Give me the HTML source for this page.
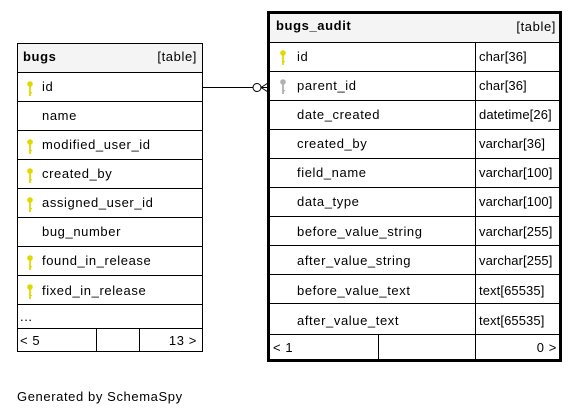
<!DOCTYPE html>
<html><head><style>body{margin:0;background:#fff}svg{display:block}text{font-family:"Liberation Sans",sans-serif;font-size:13px;fill:#000;letter-spacing:0.6px}text.t{letter-spacing:0.1px}</style></head><body>
<svg width="583" height="417" xmlns="http://www.w3.org/2000/svg">
<defs>
<g id="ky"><circle cx="0" cy="-4" r="2.8" fill="#e0d800"/><rect x="-0.9" y="-2" width="1.8" height="10" fill="#e0d800"/><rect x="0" y="4" width="2" height="1.2" fill="#e0d800"/></g>
<g id="kg"><circle cx="0" cy="-4" r="2.8" fill="#b0b0b0"/><rect x="-0.9" y="-2" width="1.8" height="10" fill="#b0b0b0"/><rect x="0" y="4" width="2" height="1.2" fill="#b0b0b0"/></g>
</defs>
<rect x="17.5" y="43.5" width="185" height="308" fill="#fff" stroke="#000"/>
<rect x="18" y="44" width="184" height="28" fill="#f4f4f4"/>
<g stroke="#000" stroke-width="1">
<line x1="17" y1="72.5" x2="203" y2="72.5"/><line x1="17" y1="101.5" x2="203" y2="101.5"/><line x1="17" y1="130.5" x2="203" y2="130.5"/><line x1="17" y1="159.5" x2="203" y2="159.5"/><line x1="17" y1="188.5" x2="203" y2="188.5"/><line x1="17" y1="217.5" x2="203" y2="217.5"/><line x1="17" y1="246.5" x2="203" y2="246.5"/><line x1="17" y1="275.5" x2="203" y2="275.5"/><line x1="17" y1="304.5" x2="203" y2="304.5"/><line x1="17" y1="328.5" x2="203" y2="328.5"/>
<line x1="96.5" y1="328" x2="96.5" y2="352"/><line x1="139.5" y1="328" x2="139.5" y2="352"/>
</g>
<text x="23" y="61" font-weight="bold">bugs</text><text x="197" y="61" text-anchor="end">[table]</text>
<use href="#ky" x="30" y="88"/><text x="42" y="91">id</text>
<text x="42" y="120">name</text>
<use href="#ky" x="30" y="146"/><text x="42" y="149">modified_user_id</text>
<use href="#ky" x="30" y="175"/><text x="42" y="178">created_by</text>
<use href="#ky" x="30" y="204"/><text x="42" y="207">assigned_user_id</text>
<text x="42" y="236">bug_number</text>
<use href="#ky" x="30" y="262"/><text x="42" y="265">found_in_release</text>
<use href="#ky" x="30" y="291"/><text x="42" y="295">fixed_in_release</text>
<text x="20" y="321">...</text>
<text x="20" y="345">&lt; 5</text><text x="197" y="345" text-anchor="end">13 &gt;</text>
<line x1="203" y1="87.5" x2="253" y2="87.5" stroke="#000"/>
<circle cx="257" cy="87.5" r="4" fill="#fff" stroke="#000"/>
<path d="M261 87.5 L268 83 M261 87.5 L268 92 M261 87.5 L268 87.5" stroke="#000" fill="none"/>
<rect x="268.5" y="12.5" width="292" height="348" fill="#fff" stroke="#000" stroke-width="3"/>
<rect x="270" y="14" width="289" height="28" fill="#f4f4f4"/>
<g stroke="#000" stroke-width="1">
<line x1="268" y1="42.5" x2="561" y2="42.5"/><line x1="268" y1="71.5" x2="561" y2="71.5"/><line x1="268" y1="100.5" x2="561" y2="100.5"/><line x1="268" y1="129.5" x2="561" y2="129.5"/><line x1="268" y1="158.5" x2="561" y2="158.5"/><line x1="268" y1="187.5" x2="561" y2="187.5"/><line x1="268" y1="216.5" x2="561" y2="216.5"/><line x1="268" y1="245.5" x2="561" y2="245.5"/><line x1="268" y1="274.5" x2="561" y2="274.5"/><line x1="268" y1="303.5" x2="561" y2="303.5"/><line x1="268" y1="334.5" x2="561" y2="334.5"/>
<line x1="475.5" y1="42" x2="475.5" y2="361"/><line x1="378.5" y1="334" x2="378.5" y2="361"/>
</g>
<text x="276" y="30" font-weight="bold">bugs_audit</text><text x="556" y="31" text-anchor="end">[table]</text>
<use href="#ky" x="283" y="57"/><text x="297" y="61">id</text><text class="t" x="479" y="61">char[36]</text>
<use href="#kg" x="283" y="86"/><text x="297" y="90">parent_id</text><text class="t" x="479" y="90">char[36]</text>
<text x="297" y="119">date_created</text><text class="t" x="479" y="119">datetime[26]</text>
<text x="297" y="148">created_by</text><text class="t" x="479" y="148">varchar[36]</text>
<text x="297" y="177">field_name</text><text class="t" x="479" y="177">varchar[100]</text>
<text x="297" y="206">data_type</text><text class="t" x="479" y="206">varchar[100]</text>
<text x="297" y="236">before_value_string</text><text class="t" x="479" y="236">varchar[255]</text>
<text x="297" y="265">after_value_string</text><text class="t" x="479" y="265">varchar[255]</text>
<text x="297" y="295">before_value_text</text><text class="t" x="479" y="295">text[65535]</text>
<text x="297" y="325">after_value_text</text><text class="t" x="479" y="325">text[65535]</text>
<text x="273" y="352">&lt; 1</text><text x="557" y="352" text-anchor="end">0 &gt;</text>
<text x="17" y="401">Generated by SchemaSpy</text>
</svg>
</body></html>
